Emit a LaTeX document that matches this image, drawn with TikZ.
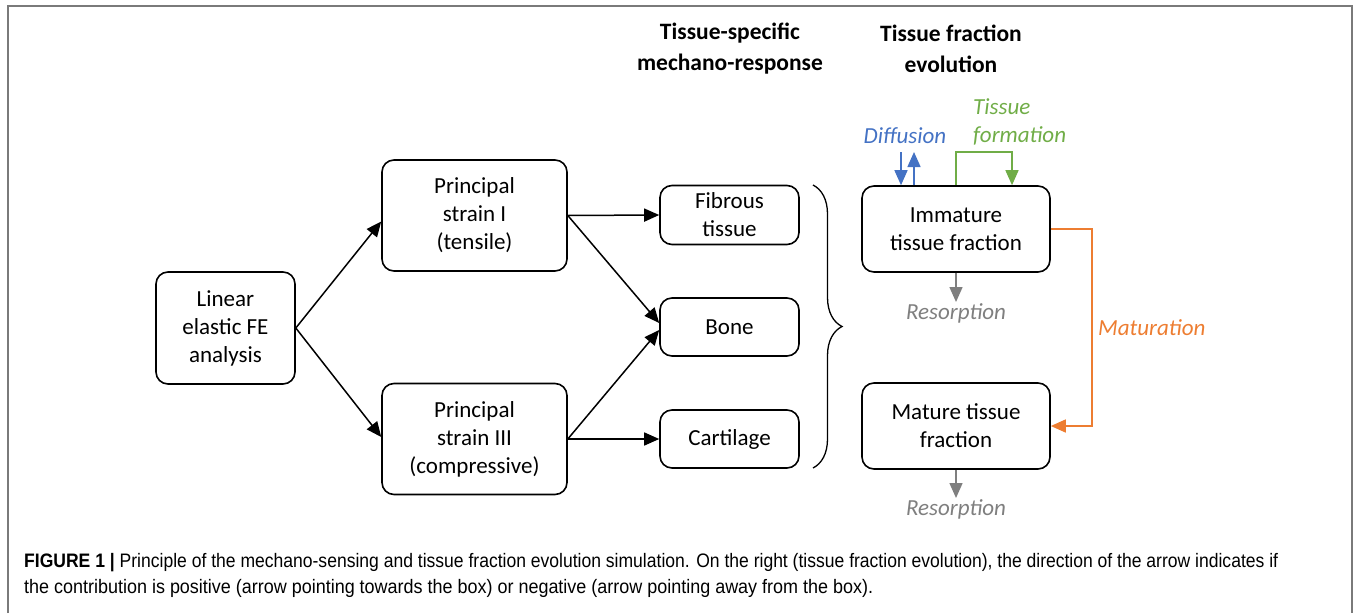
\documentclass[tikz,border=0pt]{standalone}
\usepackage{fontspec}
\usepackage{graphicx}
\setmainfont{Carlito}
\newfontfamily\capfont{Liberation Sans}
\usetikzlibrary{arrows.meta,decorations.pathreplacing,calc}
\definecolor{cblue}{HTML}{4472C4}
\definecolor{cgreen}{HTML}{70AD47}
\definecolor{corange}{HTML}{ED7D31}
\definecolor{cgray}{HTML}{7F7F7F}
\definecolor{frame}{HTML}{7A7A7A}
\newsavebox{\fitbox}
\newdimen\fitlen
\newcommand{\fitline}[2]{\sbox{\fitbox}{#2}\fitlen=\wd\fitbox\scalebox{\fpeval{#1/\fitlen}}[1]{\usebox{\fitbox}}}
\tikzset{
  box/.style={draw, line width=1.6pt, rounded corners=12pt, align=center, inner sep=0pt,
    font=\fontsize{23}{28}\selectfont},
  hdr/.style={align=center, inner sep=0pt, font=\fontsize{23.5}{31}\selectfont\bfseries},
  lab/.style={inner sep=1pt, font=\fontsize{23}{28}\selectfont\itshape},
  conn/.style={line width=1.5pt, -{Triangle[length=15pt,width=13pt]}},
  capline/.style={anchor=base west, inner sep=0pt, font=\capfont\fontsize{19.5}{23}\selectfont}
}
\begin{document}
\begin{tikzpicture}[x=1pt,y=-1pt]
\useasboundingbox (0,0) rectangle (1356,613);
% frame
\draw[frame, line width=2pt] (8,613) -- (8,6) -- (1352,6) -- (1352,613);
% headers
\node[hdr] (h1) at (730,48.5) {Tissue-specific\\mechano-response};
\node[hdr] (h2) at (951,48.5) {Tissue fraction\\evolution};
% boxes
\node[box, minimum width=139pt, minimum height=112pt] (lin) at (225.5,328) {Linear\\elastic FE\\analysis};
\node[box, minimum width=185pt, minimum height=111pt] (p1) at (474.5,215.5) {Principal\\strain I\\(tensile)};
\node[box, minimum width=185pt, minimum height=111pt] (p3) at (474.5,439) {Principal\\strain III\\(compressive)};
\node[box, minimum width=139pt, minimum height=59pt] (fib) at (729.5,215) {Fibrous\\tissue};
\node[box, minimum width=139pt, minimum height=58pt] (bone) at (729.5,327) {Bone};
\node[box, minimum width=139pt, minimum height=58pt] (cart) at (729.5,439) {Cartilage};
\node[box, minimum width=188pt, minimum height=86pt] (imm) at (956,229) {Immature\\tissue fraction};
\node[box, minimum width=188pt, minimum height=86pt] (mat) at (956,426) {Mature tissue\\fraction};
% connectors left part
\draw[conn] (lin.east) -- ($(p1.west)+(0,6)$);
\draw[conn] (lin.east) -- ($(p3.west)+(0,-2)$);
\draw[conn] (p1.east) -- (fib.west);
\draw[conn] (p1.east) -- ($(bone.west)+(0,-4)$);
\draw[conn] (p3.east) -- ($(bone.west)+(0,3)$);
\draw[conn] (p3.east) -- (cart.west);
% brace
\draw[line width=1.3pt, decorate, decoration={brace, amplitude=29pt}] (813,185) -- (813,468);
% labels
\node[lab, text=cblue] (dif) at (905,136) {Diffusion};
\node[lab, text=cgreen, anchor=west, align=left] (tf) at (972,122) {Tissue\\formation};
\node[lab, text=corange, anchor=west] (matu) at (1097,328) {Maturation};
\node[lab, text=cgray] (res1) at (956,313) {Resorption};
\node[lab, text=cgray] (res2) at (956,509) {Resorption};
% diffusion arrows
\coordinate (d1) at (901,152);
\coordinate (d2) at (914,152);
\draw[conn, cblue] (d1) -- (d1 |- imm.north);
\draw[conn, cblue] (d2 |- imm.north) -- (d2);
% tissue formation
\coordinate (g1) at (1012,152);
\draw[conn, cgreen] (imm.north) |- (g1) -- (g1 |- imm.north);
% maturation
\coordinate (m1) at (1092,229);
\draw[conn, corange] (imm.east) -- (m1) |- (mat.east);
% resorption
\draw[conn, cgray] (imm.south) -- (res1.north);
\draw[conn, cgray] (mat.south) -- (res2.north);
% caption
\node[capline] (cap1) at (24,567) {\fitline{1254}{\textbf{FIGURE 1 |} Principle of the mechano-sensing and tissue fraction evolution simulation. On the right (tissue fraction evolution), the direction of the arrow indicates if}};
\node[capline] (cap2) at (24,593) {\fitline{849}{the contribution is positive (arrow pointing towards the box) or negative (arrow pointing away from the box).}};
\end{tikzpicture}
\end{document}
